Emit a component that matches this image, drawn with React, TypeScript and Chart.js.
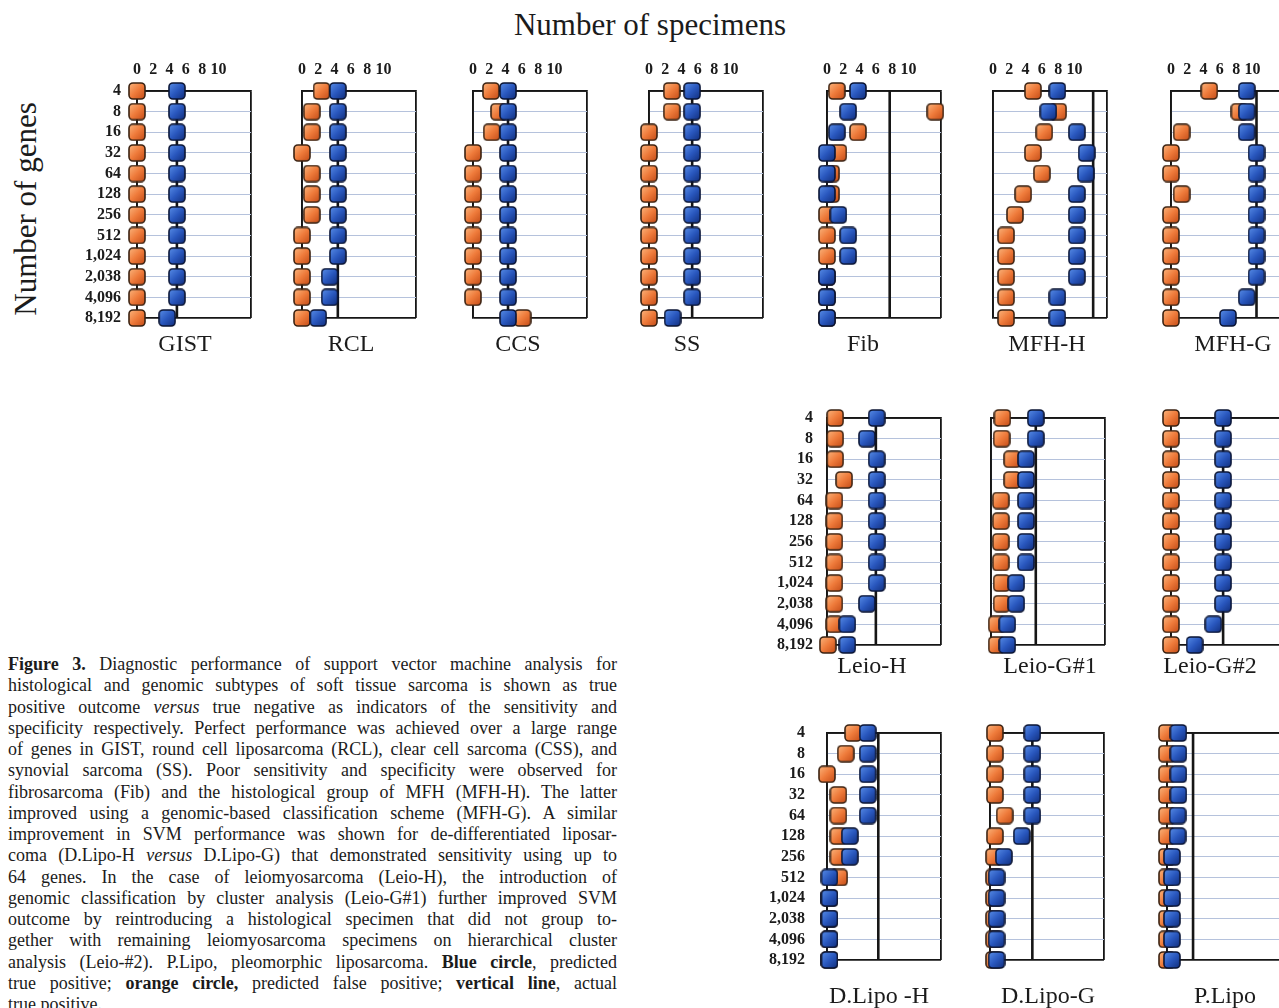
import React, { useEffect, useRef } from 'react';
import { Chart, registerables } from 'chart.js';

Chart.register(...registerables);

// ---------- data ----------
const GENES = ['4', '8', '16', '32', '64', '128', '256', '512', '1,024', '2,038', '4,096', '8,192'];
const SPECIMEN_TICKS = [0, 2, 4, 6, 8, 10];
const X_MAX = 14;

const GIST_FP = [0, 0, 0, 0, 0, 0, 0, 0, 0, 0, 0, 0];
const GIST_TP = [4.9, 4.9, 4.9, 4.9, 4.9, 4.9, 4.9, 4.9, 4.9, 4.9, 4.9, 3.7];
const GIST_ACTUAL = 4.9;

const RCL_FP = [2.4, 1.2, 1.2, 0, 1.2, 1.2, 1.2, 0, 0, 0, 0, 0];
const RCL_TP = [4.4, 4.4, 4.4, 4.4, 4.4, 4.4, 4.4, 4.4, 4.4, 3.4, 3.4, 2.0];
const RCL_ACTUAL = 4.4;

const CCS_FP = [2.2, 3.2, 2.3, 0, 0, 0, 0, 0, 0, 0, 0, 6.1];
const CCS_TP = [4.3, 4.3, 4.3, 4.3, 4.3, 4.3, 4.3, 4.3, 4.3, 4.3, 4.3, 4.3];
const CCS_ACTUAL = 4.3;

const SS_FP = [2.8, 2.8, 0, 0, 0, 0, 0, 0, 0, 0, 0, 0];
const SS_TP = [5.3, 5.3, 5.3, 5.3, 5.3, 5.3, 5.3, 5.3, 5.3, 5.3, 5.3, 2.9];
const SS_ACTUAL = 5.3;

const FIB_FP = [1.2, 13.3, 3.8, 1.4, 0.5, 0.5, 0, 0, 0, 0, 0, 0];
const FIB_TP = [3.8, 2.6, 1.2, 0, 0, 0, 1.4, 2.6, 2.6, 0, 0, 0];
const FIB_ACTUAL = 7.7;

const MFHH_FP = [4.9, 8.0, 6.3, 4.9, 6.0, 3.7, 2.7, 1.6, 1.6, 1.6, 1.6, 1.6];
const MFHH_TP = [7.9, 6.8, 10.3, 11.5, 11.4, 10.3, 10.3, 10.3, 10.3, 10.3, 7.9, 7.9];
const MFHH_ACTUAL = 12.3;

const MFHG_FP = [4.7, 8.4, 1.3, 0, 0, 1.3, 0, 0, 0, 0, 0, 0];
const MFHG_TP = [9.3, 9.3, 9.3, 10.5, 10.5, 10.5, 10.5, 10.5, 10.5, 10.5, 9.3, 7.0];
const MFHG_ACTUAL = 10.5;

const LEIOH_FP = [1.0, 1.0, 1.0, 2.1, 0.9, 0.9, 0.9, 0.9, 0.9, 0.9, 0.9, 0.1];
const LEIOH_TP = [6.1, 4.9, 6.1, 6.1, 6.1, 6.1, 6.1, 6.1, 6.1, 4.9, 2.5, 2.5];
const LEIOH_ACTUAL = 6.0;

const LEIOG1_FP = [1.4, 1.3, 2.6, 2.6, 1.2, 1.2, 1.2, 1.2, 1.3, 1.3, 0.7, 0.7];
const LEIOG1_TP = [5.5, 5.5, 4.3, 4.3, 4.3, 4.3, 4.3, 4.3, 3.1, 3.1, 2.0, 2.0];
const LEIOG1_ACTUAL = 5.5;

const LEIOG2_FP = [0, 0, 0, 0, 0, 0, 0, 0, 0, 0, 0, 0];
const LEIOG2_TP = [6.4, 6.4, 6.4, 6.4, 6.4, 6.4, 6.4, 6.4, 6.4, 6.4, 5.2, 2.9];
const LEIOG2_ACTUAL = 6.4;

const DLIPOH_FP = [3.2, 2.3, 0, 1.4, 1.4, 1.4, 1.4, 1.5, 0.3, 0.3, 0.3, 0.3];
const DLIPOH_TP = [5.0, 5.0, 5.0, 5.0, 5.0, 2.8, 2.8, 0.3, 0.3, 0.3, 0.3, 0.3];
const DLIPOH_ACTUAL = 6.3;

const DLIPOG_FP = [0.6, 0.6, 0.6, 0.6, 1.8, 0.6, 0.5, 0.5, 0.5, 0.5, 0.5, 0.5];
const DLIPOG_TP = [5.2, 5.2, 5.2, 5.2, 5.2, 3.9, 1.7, 0.8, 0.8, 0.8, 0.8, 0.8];
const DLIPOG_ACTUAL = 5.2;

const PLIPO_FP = [0, 0, 0, 0, 0, 0, 0, 0, 0, 0, 0, 0];
const PLIPO_TP = [1.4, 1.4, 1.4, 1.4, 1.3, 1.3, 0.6, 0.6, 0.6, 0.6, 0.6, 0.6];
const PLIPO_ACTUAL = 3.2;

const PANELS = [
  { name: 'GIST', fp: GIST_FP, tp: GIST_TP, actual: GIST_ACTUAL },
  { name: 'RCL', fp: RCL_FP, tp: RCL_TP, actual: RCL_ACTUAL },
  { name: 'CCS', fp: CCS_FP, tp: CCS_TP, actual: CCS_ACTUAL },
  { name: 'SS', fp: SS_FP, tp: SS_TP, actual: SS_ACTUAL },
  { name: 'Fib', fp: FIB_FP, tp: FIB_TP, actual: FIB_ACTUAL },
  { name: 'MFH-H', fp: MFHH_FP, tp: MFHH_TP, actual: MFHH_ACTUAL },
  { name: 'MFH-G', fp: MFHG_FP, tp: MFHG_TP, actual: MFHG_ACTUAL },
  { name: 'Leio-H', fp: LEIOH_FP, tp: LEIOH_TP, actual: LEIOH_ACTUAL },
  { name: 'Leio-G#1', fp: LEIOG1_FP, tp: LEIOG1_TP, actual: LEIOG1_ACTUAL },
  { name: 'Leio-G#2', fp: LEIOG2_FP, tp: LEIOG2_TP, actual: LEIOG2_ACTUAL },
  { name: 'D.Lipo -H', fp: DLIPOH_FP, tp: DLIPOH_TP, actual: DLIPOH_ACTUAL },
  { name: 'D.Lipo-G', fp: DLIPOG_FP, tp: DLIPOG_TP, actual: DLIPOG_ACTUAL },
  { name: 'P.Lipo', fp: PLIPO_FP, tp: PLIPO_TP, actual: PLIPO_ACTUAL },
];

// ---------- layout (positions / styles only) ----------
const BOX_W = 114;
const BOX_H = 227;
const Y_LEFT_W = 70;
const ROWS = [
  { top: 91, hx: 40, gap: 13, yPad: 16, showX: true },
  { top: 418, hx: 14, gap: 8, yPad: 14, showX: false },
  { top: 733, hx: 14, gap: 23, yPad: 22, showX: false },
];
const LAYOUT = [
  { row: 0, left: 137, off: -4, showY: true },
  { row: 0, left: 302, off: -3, showY: false },
  { row: 0, left: 473, off: -7, showY: false },
  { row: 0, left: 649, off: -14, showY: false },
  { row: 0, left: 827, off: -16, showY: false },
  { row: 0, left: 993, off: 2, showY: false },
  { row: 0, left: 1171, off: 10, showY: false },
  { row: 1, left: 827, off: -7, showY: true },
  { row: 1, left: 991, off: 7, showY: false },
  { row: 1, left: 1171, off: -13, showY: false },
  { row: 2, left: 827, off: 0, showY: true },
  { row: 2, left: 990, off: 6, showY: false },
  { row: 2, left: 1167, off: 6, showY: false },
];

const FONT = "'Liberation Serif', 'Times New Roman', Times, serif";
const INK = '#1b1b1b';
const BOX = '#161616';
const GRID = '#b5c2dc';
const Y_FONT_SIZE = 16;

function makeMarker(light: string, mid: string, dark: string, edge: string) {
  const s = 18;
  const c = document.createElement('canvas');
  c.width = s;
  c.height = s;
  const g = c.getContext('2d')!;
  const grad = g.createLinearGradient(2, 2, s - 2, s - 2);
  grad.addColorStop(0, light);
  grad.addColorStop(0.5, mid);
  grad.addColorStop(1, dark);
  g.beginPath();
  (g as any).roundRect(1, 1, s - 2, s - 2, 4);
  g.fillStyle = grad;
  g.fill();
  g.lineWidth = 1.6;
  g.strokeStyle = edge;
  g.stroke();
  return c;
}

function Panel({ spec, lay }: { spec: any; lay: any }) {
  const ref = useRef<HTMLCanvasElement | null>(null);
  const row = ROWS[lay.row];
  // room above the box: the y-axis reserves half a label plus its padding
  const hx = lay.showY ? Math.max(row.hx, Math.ceil(row.yPad + Y_FONT_SIZE * 0.6 + 1)) : row.hx;
  const yRightW = 60 + 2 * lay.off;
  const W = Y_LEFT_W + BOX_W + yRightW;
  const titleH = row.gap + 28;
  const H = hx + BOX_H + titleH + 4;

  useEffect(() => {
    if (!ref.current) return;
    const orange = makeMarker('#f9ad74', '#ef7b3b', '#c9521c', '#3a2212');
    const blue = makeMarker('#5286e2', '#2a58bf', '#153486', '#0a1434');
    const last = GENES.length - 1;
    const chart = new Chart(ref.current, {
      type: 'scatter',
      data: {
        datasets: [
          {
            label: 'predicted true positive',
            data: spec.tp.map((v: number, i: number) => ({ x: v, y: i })),
            pointStyle: blue as any,
            pointRadius: 9,
            clip: false as any,
            order: 0,
          },
          {
            label: 'predicted false positive',
            data: spec.fp.map((v: number, i: number) => ({ x: v, y: i })),
            pointStyle: orange as any,
            pointRadius: 9,
            clip: false as any,
            order: 1,
          },
          {
            label: 'actual true positive',
            data: [
              { x: spec.actual, y: 0 },
              { x: spec.actual, y: last },
            ],
            showLine: true,
            pointRadius: 0,
            borderColor: BOX,
            borderWidth: 2.6,
            clip: false as any,
            order: 2,
          },
        ],
      },
      options: {
        responsive: false,
        animation: false,
        events: [],
        layout: { padding: { left: 0, right: 0, top: 0, bottom: 4 } },
        plugins: {
          legend: { display: false },
          tooltip: { enabled: false },
          title: {
            display: true,
            position: 'bottom',
            text: spec.name,
            color: INK,
            font: { family: FONT, size: 24, weight: 'normal', lineHeight: '28px' } as any,
            padding: { top: row.gap, bottom: 0 },
          },
        },
        scales: {
          x: {
            type: 'linear',
            position: 'top',
            min: 0,
            max: X_MAX,
            afterFit: (s: any) => {
              s.height = hx;
            },
            ticks: {
              display: row.showX,
              stepSize: 2,
              autoSkip: false,
              maxRotation: 0,
              padding: 12,
              color: INK,
              font: { family: FONT, size: 16, weight: 'bold' },
              callback: (v: any) => (SPECIMEN_TICKS.includes(Number(v)) ? String(v) : ''),
            },
            grid: {
              drawTicks: false,
              color: (ctx: any) =>
                ctx.tick && (ctx.tick.value === 0 || ctx.tick.value === X_MAX) ? BOX : 'rgba(0,0,0,0)',
              lineWidth: 1.8,
            },
            border: { display: true, color: BOX, width: 1.8 },
          },
          y: {
            type: 'linear',
            position: 'left',
            reverse: true,
            min: 0,
            max: last,
            afterFit: (s: any) => {
              s.width = Y_LEFT_W;
            },
            ticks: {
              display: lay.showY,
              stepSize: 1,
              autoSkip: false,
              padding: row.yPad,
              color: INK,
              font: { family: FONT, size: Y_FONT_SIZE, weight: 'bold' },
              callback: (v: any) => GENES[Number(v)] ?? '',
            },
            grid: {
              drawTicks: false,
              color: (ctx: any) =>
                ctx.tick && (ctx.tick.value === 0 || ctx.tick.value === last) ? BOX : GRID,
              lineWidth: (ctx: any) =>
                ctx.tick && (ctx.tick.value === 0 || ctx.tick.value === last) ? 1.8 : 1,
            },
            border: { display: true, color: BOX, width: 1.8 },
          },
          yr: {
            type: 'linear',
            position: 'right',
            display: true,
            afterFit: (s: any) => {
              s.width = yRightW;
            },
            ticks: { display: false },
            grid: { display: false },
            border: { display: false },
          },
        } as any,
      },
    });
    return () => chart.destroy();
  }, []);

  return (
    <canvas
      ref={ref}
      width={W}
      height={H}
      style={{
        position: 'absolute',
        left: lay.left - Y_LEFT_W,
        top: row.top - hx,
        width: W,
        height: H,
      }}
    />
  );
}

// ---------- caption ----------
type Seg = [string, string?];
const CAPTION: Seg[][] = [
  [['Figure 3.', 'b'], [' Diagnostic performance of support vector machine analysis for']],
  [['histological and genomic subtypes of soft tissue sarcoma is shown as true']],
  [['positive outcome '], ['versus', 'i'], [' true negative as indicators of the sensitivity and']],
  [['specificity respectively. Perfect performance was achieved over a large range']],
  [['of genes in GIST, round cell liposarcoma (RCL), clear cell sarcoma (CSS), and']],
  [['synovial sarcoma (SS). Poor sensitivity and specificity were observed for']],
  [['fibrosarcoma (Fib) and the histological group of MFH (MFH-H). The latter']],
  [['improved using a genomic-based classification scheme (MFH-G). A similar']],
  [['improvement in SVM performance was shown for de-differentiated liposar-']],
  [['coma (D.Lipo-H '], ['versus', 'i'], [' D.Lipo-G) that demonstrated sensitivity using up to']],
  [['64 genes. In the case of leiomyosarcoma (Leio-H), the introduction of']],
  [['genomic classification by cluster analysis (Leio-G#1) further improved SVM']],
  [['outcome by reintroducing a histological specimen that did not group to-']],
  [['gether with remaining leiomyosarcoma specimens on hierarchical cluster']],
  [['analysis (Leio-#2). P.Lipo, pleomorphic liposarcoma. '], ['Blue circle', 'b'], [', predicted']],
  [['true positive; '], ['orange circle,', 'b'], [' predicted false positive; '], ['vertical line', 'b'], [', actual']],
  [['true positive.']],
];

export default function App() {
  return (
    <div
      style={{
        position: 'absolute',
        left: 0,
        top: 0,
        width: 1279,
        height: 1008,
        overflow: 'hidden',
        background: '#ffffff',
        fontFamily: FONT,
        color: INK,
      }}
    >
      <div
        style={{
          position: 'absolute',
          left: 400,
          top: 6,
          width: 500,
          textAlign: 'center',
          fontSize: 31,
          lineHeight: '38px',
        }}
      >
        Number of specimens
      </div>
      <div
        style={{
          position: 'absolute',
          left: 26 - 150,
          top: 209 - 19,
          width: 300,
          height: 38,
          textAlign: 'center',
          fontSize: 31,
          lineHeight: '38px',
          transform: 'rotate(-90deg)',
          transformOrigin: '50% 50%',
        }}
      >
        Number of genes
      </div>
      {PANELS.map((p, i) => (
        <Panel key={p.name} spec={p} lay={LAYOUT[i]} />
      ))}
      <div
        style={{
          position: 'absolute',
          left: 8,
          top: 654,
          width: 609,
          fontSize: 18,
          lineHeight: '21.27px',
        }}
      >
        {CAPTION.map((line, li) => (
          <div
            key={li}
            style={{
              whiteSpace: 'nowrap',
              textAlign: li === CAPTION.length - 1 ? 'left' : 'justify',
              textAlignLast: li === CAPTION.length - 1 ? 'left' : 'justify',
            } as any}
          >
            {line.map((seg, si) =>
              seg[1] === 'b' ? (
                <b key={si}>{seg[0]}</b>
              ) : seg[1] === 'i' ? (
                <i key={si}>{seg[0]}</i>
              ) : (
                <span key={si}>{seg[0]}</span>
              )
            )}
          </div>
        ))}
      </div>
    </div>
  );
}
